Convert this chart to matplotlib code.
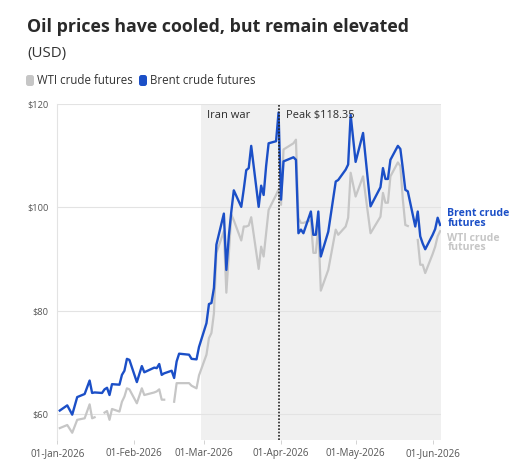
import matplotlib
matplotlib.use("Agg")
import matplotlib.pyplot as plt
from matplotlib.patches import FancyBboxPatch
import numpy as np
import pandas as pd

plt.rcParams['font.family'] = ['Open Sans', 'DejaVu Sans']

# trading days (vertices); NaN = WTI closed
dates = [
    "2026-01-02", "2026-01-05", "2026-01-07", "2026-01-09", "2026-01-12",
    "2026-01-14", "2026-01-15", "2026-01-16", "2026-01-19", "2026-01-20",
    "2026-01-21", "2026-01-22", "2026-01-23", "2026-01-26", "2026-01-27",
    "2026-01-28", "2026-01-29", "2026-01-30", "2026-02-02", "2026-02-04",
    "2026-02-05", "2026-02-09", "2026-02-10", "2026-02-11", "2026-02-12",
    "2026-02-13", "2026-02-16", "2026-02-17", "2026-02-18", "2026-02-19",
    "2026-02-23", "2026-02-24", "2026-02-26", "2026-02-27", "2026-03-02",
    "2026-03-03", "2026-03-04", "2026-03-05", "2026-03-06", "2026-03-09",
    "2026-03-10", "2026-03-11", "2026-03-12", "2026-03-13", "2026-03-16",
    "2026-03-17", "2026-03-18", "2026-03-19", "2026-03-20", "2026-03-23",
    "2026-03-24", "2026-03-25", "2026-03-26", "2026-03-27", "2026-03-30",
    "2026-03-31", "2026-04-01", "2026-04-02", "2026-04-06", "2026-04-07",
    "2026-04-08", "2026-04-09", "2026-04-10", "2026-04-13", "2026-04-14",
    "2026-04-15", "2026-04-16", "2026-04-17", "2026-04-20", "2026-04-23",
    "2026-04-24", "2026-04-27", "2026-04-28", "2026-04-29", "2026-05-01",
    "2026-05-04", "2026-05-07", "2026-05-11", "2026-05-12", "2026-05-13",
    "2026-05-14", "2026-05-15", "2026-05-18", "2026-05-19", "2026-05-20",
    "2026-05-21", "2026-05-22", "2026-05-25", "2026-05-26", "2026-05-27",
    "2026-05-28", "2026-05-29", "2026-06-01", "2026-06-02", "2026-06-03",
    "2026-06-04",
]
brent = [
    60.7, 61.7, 59.9, 63.3, 63.9,
    66.5, 64.1, 64.2, 64.1, 64.8,
    65.1, 63.7, 65.8, 65.7, 67.6,
    68.4, 70.7, 70.5, 66.2, 69.3,
    68.1, 69.0, 68.9, 69.7, 67.6,
    67.9, 68.4, 67.0, 70.2, 71.7,
    71.5, 70.7, 70.6, 73.0, 77.6,
    81.3, 81.5, 84.4, 92.8, 98.8,
    87.9, 94.5, 99.2, 103.3, 100.1,
    103.5, 107.2, 107.6, 111.9, 100.1,
    104.2, 102.4, 108.0, 112.4, 112.8,
    118.35, 101.5, 108.9, 109.7, 109.2,
    95.0, 95.7, 95.0, 99.2, 94.7,
    94.7, 99.2, 90.5, 95.3, 105.0,
    105.3, 107.3, 108.3, 117.9, 108.8,
    114.4, 100.2, 103.9, 107.6, 105.5,
    105.5, 109.2, 111.9, 111.3, 107.5,
    103.4, 103.1, 96.3, 99.2, 94.4,
    93.0, 91.9, 94.7, 95.8, 98.0,
    96.6,
]
wti = [
    57.3, 57.9, 56.4, 58.9, 59.2,
    61.9, 59.2, 59.4, np.nan, 60.3,
    60.6, 58.9, 61.0, 60.5, 62.4,
    63.4, 65.0, 64.8, 62.1, 65.0,
    63.7, 64.2, 64.4, 64.8, 62.8,
    62.8, np.nan, 62.4, 66.0, 66.0,
    66.0, 65.5, 65.0, 67.5, 71.5,
    74.7, 75.7, 79.5, 91.2, 95.4,
    83.5, 91.0, 98.6, 97.5, 93.6,
    96.3, 96.3, 96.5, 98.1, 88.1,
    92.4, 90.5, 95.0, 99.5, 102.4,
    103.5, 100.5, 111.2, 112.4, 113.1,
    97.9, 97.0, 97.0, 97.5, 91.2,
    91.2, 96.3, 83.9, 87.9, 95.7,
    94.7, 96.3, 98.0, 106.7, 102.1,
    106.0, 95.0, 98.2, 102.8, 100.9,
    100.9, 106.0, 108.7, 108.0, 101.5,
    96.6, 96.4, np.nan, 93.7, 88.9,
    88.9, 87.3, 91.0, 92.4, 94.4,
    95.4,
]

war_start = "2026-02-28"
peak_day = "2026-03-31"
peak_label = "Peak $118.35"
y_ticks = [60, 80, 100, 120]
x_ticks = ["2026-01-01", "2026-02-01", "2026-03-01",
           "2026-04-01", "2026-05-01", "2026-06-01"]

BLUE = "#1b4fc7"
GREY = "#c6c6c6"
TEXT = "#2b2b2b"

W, H = 511, 463
fig = plt.figure(figsize=(W / 100, H / 100), dpi=100)
ax = fig.add_axes([57 / W, 1 - 440 / H, (441 - 57) / W, (440 - 104) / H])

t = pd.to_datetime(dates)
x_end = pd.Timestamp("2026-01-01") + pd.Timedelta(days=154.35)

ax.axvspan(pd.Timestamp(war_start), x_end, color="#f0f0f0", lw=0, zorder=0)
ax.plot(t, wti, color=GREY, lw=1.6, zorder=2)
ax.plot(t, brent, color=BLUE, lw=1.7, zorder=3)
ax.axvline(pd.Timestamp(peak_day), color="#222222", lw=1.2, ls=(0, (1, 1)), zorder=4)

ax.set_xlim(pd.Timestamp("2026-01-01") - pd.Timedelta(hours=3), x_end)
ax.set_ylim(55, 120)
ax.set_axisbelow(True)

ax.set_yticks(y_ticks)
ax.set_yticklabels([f"${v}" for v in y_ticks])
ax.grid(axis="y", color="#e3e3e3", lw=0.8)
xt = pd.to_datetime(x_ticks)
ax.set_xticks(xt)
ax.set_xticklabels([d.strftime("%d-%b-%Y") for d in xt])
ax.tick_params(axis="y", length=0, pad=6, labelsize=6.7, labelcolor="#555555")
ax.tick_params(axis="x", length=3, width=0.6, color="#cccccc", pad=3,
               labelsize=7.1, labelcolor="#555555")
for s in ["top", "right", "bottom"]:
    ax.spines[s].set_visible(False)
ax.spines["left"].set_color("#e3e3e3")
ax.spines["left"].set_linewidth(0.8)

# annotations
ax.annotate("Iran war", xy=(pd.Timestamp(war_start), 1),
            xycoords=("data", "axes fraction"), xytext=(3.8, -10.3),
            textcoords="offset points", va="baseline", ha="left",
            fontsize=8, color=TEXT)
ax.annotate(peak_label, xy=(pd.Timestamp(peak_day), 1),
            xycoords=("data", "axes fraction"), xytext=(5.2, -10.3),
            textcoords="offset points", va="baseline", ha="left",
            fontsize=7.9, color=TEXT)
ax.annotate("Brent crude\nfutures", xy=(1, 97.9), xycoords=("axes fraction", "data"),
            xytext=(4.5, 0), textcoords="offset points", va="center", ha="left",
            fontsize=7.6, fontweight="bold", color=BLUE, linespacing=0.85,
            annotation_clip=False)
ax.annotate("WTI crude\nfutures", xy=(1, 93.1), xycoords=("axes fraction", "data"),
            xytext=(4.5, 0), textcoords="offset points", va="center", ha="left",
            fontsize=7.6, fontweight="bold", color=GREY, linespacing=0.85,
            annotation_clip=False)

# title block
fig.text(27 / W, 1 - 32 / H, "Oil prices have cooled, but remain elevated",
         fontsize=12.8, fontweight="bold", color="#2a2a2a", va="baseline")
fig.text(27 / W, 1 - 56.5 / H, "(USD)", fontsize=10.8, color="#333333", va="baseline")

# legend
for x0, col, label in [(26, GREY, "WTI crude futures"), (139, BLUE, "Brent crude futures")]:
    fig.add_artist(FancyBboxPatch((x0, H - 86), 8, 11,
                                  boxstyle="round,pad=0,rounding_size=2.5",
                                  fc=col, ec="none", transform=None))
    fig.text((x0 + 11) / W, 1 - 83.5 / H, label, fontsize=8.3, color="#333333",
             va="baseline")

fig.savefig("out.png", dpi=100)
